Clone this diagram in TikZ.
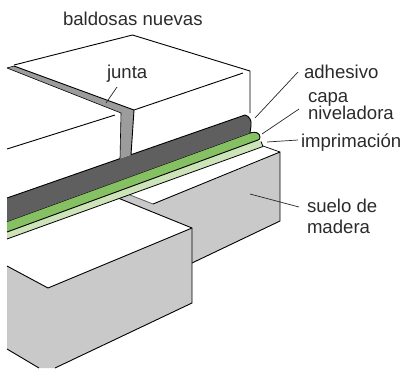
\documentclass[tikz,border=0pt]{standalone}
\usepackage{fontspec}
\setmainfont{Liberation Sans}
\definecolor{darkband}{HTML}{5F5F5F}
\definecolor{greenband}{HTML}{85C162}
\definecolor{palegreen}{HTML}{CDE3B8}
\definecolor{floorgray}{HTML}{C9C9C9}
\definecolor{jointgray}{HTML}{9C9C9C}
\definecolor{inktext}{HTML}{2B2B2B}
\tikzset{
  edge/.style={draw=black,line width=0.9pt,line join=round},
  leader/.style={draw=black!85,line width=0.7pt},
  lab/.style={anchor=base west,inner sep=0pt,outer sep=0pt,text=inktext,font=\fontsize{18.6}{20}\selectfont},
}
\begin{document}
\begin{tikzpicture}[x=1pt,y=-1pt]
\useasboundingbox (0,0) rectangle (404,368);
% right floor block
\fill[floorgray] (118,198) -- (130,193) -- (153,204) -- (262,160) -- (280,152) -- (280,221) -- (192,263) -- (192,228) -- cycle;
\fill[white] (130,195) -- (153,204) -- (262,160) -- (235,158) -- cycle;
\draw[edge] (153,204) -- (280,152) -- (280,221) -- (192,263);
\draw[edge,draw=black!60] (130,195) -- (153,204);
\draw[edge,line width=.7pt] (263,146) -- (280,152);
% front floor block
\fill[floorgray] (7,266) -- (48,288) -- (192,228) -- (192,303) -- (55,368) -- (39,368) -- (7,349) -- cycle;
\draw[edge] (7,266) -- (48,288) -- (192,228) -- (118,198);
\draw[edge] (192,228) -- (192,303) -- (55,368);
\draw[edge] (7,349) -- (39,368);
% bands
\fill[palegreen] (7,232) -- (258,140) -- (262,142) -- (263,146) -- (7,239) -- cycle;
\draw[edge,line width=.8pt] (7,239) -- (263,146.5) -- (261,141.5);
\fill[greenband] (7,221.5) -- (250,133) .. controls (255,131) and (260,133) .. (260,137) .. controls (260,139) and (259,140) .. (258,140) -- (7,232) -- cycle;
\draw[edge] (7,232) -- (258,140) .. controls (259,140) and (260,139) .. (260,137) .. controls (260,133) and (255,131) .. (250,133) -- (7,221.5);
\fill[darkband] (7,198) -- (245,115) .. controls (249,116) and (252,120) .. (251,126) -- (250,133) -- (7,221.5) -- cycle;
\draw[edge] (7,198) -- (120,158.6);
\draw[edge] (131,154.7) -- (245,115) .. controls (249,116) and (252,120) .. (251,126) -- (250,133);
% joint
\fill[jointgray] (7,68) -- (14,66) -- (134,110) -- (131,154.7) -- (120,158.6) -- (121,113) -- cycle;
\draw[edge] (14,66) -- (134,110) -- (131,154.7);
\draw[edge,line width=.6pt] (7,68) -- (121,113) -- (120,158.6);
\draw[edge,line width=.6pt] (7,68) -- (14,66);
% tiles
\draw[edge] (14,65) -- (132.5,35) -- (250,71) -- (250,113);
\draw[edge] (134,110) -- (243,73);
\draw[edge] (7,149) -- (115,115);
% labels
\node[lab] (baldosas) at (63,25) {baldosas nuevas};
\node[lab] (junta) at (107,78) {junta};
\node[lab] (adhesivo) at (304,78) {adhesivo};
\node[lab] (capa) at (308,102) {capa};
\node[lab] (niveladora) at (308,119) {niveladora};
\node[lab] (imprimacion) at (301,147) {imprimación};
\node[lab] (suelo) at (307,212) {suelo de};
\node[lab] (madera) at (307,233) {madera};
% leaders
\coordinate (pjunta) at (106,103);
\coordinate (ljunta) at (117,87);
\coordinate (padh) at (255,118);
\coordinate (ladh) at (298,72);
\coordinate (pcapa) at (262,134);
\coordinate (lcapa) at (299,109);
\coordinate (pimp) at (267,142);
\coordinate (limp) at (298,140);
\coordinate (psuelo) at (250,194);
\coordinate (lsuelo) at (299,207);
\draw[leader] (ljunta) -- (pjunta);
\draw[leader] (ladh) -- (padh);
\draw[leader] (lcapa) -- (pcapa);
\draw[leader] (limp) -- (pimp);
\draw[leader] (lsuelo) -- (psuelo);
\end{tikzpicture}
\end{document}
